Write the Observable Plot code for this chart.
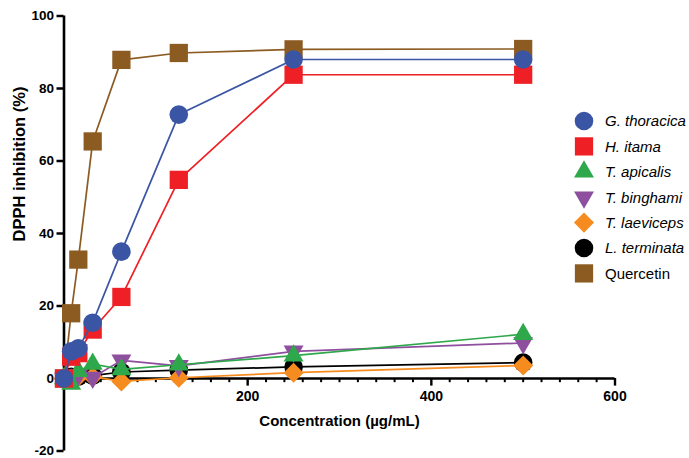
<!DOCTYPE html>
<html>
<head>
<meta charset="utf-8">
<script src="https://cdn.jsdelivr.net/npm/d3@7"></script>
<script src="https://cdn.jsdelivr.net/npm/@observablehq/plot@0.6"></script>
<style>
  body { margin: 0; background: #fff; }
  #wrap { position: relative; width: 689px; height: 458px; overflow: hidden; }
  #legend { position: absolute; left: 560px; top: 100px; pointer-events: none; }
</style>
</head>
<body>
<div id="wrap"><div id="chart"></div><svg id="legend" width="129" height="190"></svg></div>
<script>
// ---- data ----
const conc = [0, 7.8, 15.6, 31.25, 62.5, 125, 250, 500];
const seriesNames = ["G. thoracica", "H. itama", "T. apicalis", "T. binghami", "T. laeviceps", "L. terminata", "Quercetin"];
const gThoracica = [0, 7.5, 8.3, 15.4, 35, 72.8, 88, 88];
const hItama     = [0, 6, 7, 13.5, 22.5, 54.8, 83.8, 83.8];
const tApicalis  = [0, -1.5, 2, 4, 2.5, 3.8, 6.3, 12.2];
const tBinghami  = [0, 0.5, 1, 0.3, 5, 3.5, 7.5, 9.8];
const tLaeviceps = [0, 0, 0.5, 0.5, -0.8, 0.2, 1.6, 3.6];
const lTerminata = [0, 0.5, 0.5, 0.8, 1.8, 2.3, 3.2, 4.4];
const quercetin  = [0, 18, 32.8, 65.4, 87.9, 89.8, 90.8, 90.9];
const seriesValues = [gThoracica, hItama, tApicalis, tBinghami, tLaeviceps, lTerminata, quercetin];
const yTicks = [-20, 0, 20, 40, 60, 80, 100];
const xMajor = [200, 400, 600];
const xMinor = d3.range(20, 600, 20).filter(v => v % 200 !== 0);

// ---- styles ----
const colors  = ["#3b55a5", "#ee1f25", "#2ea84a", "#8e4f9f", "#f68b1f", "#000000", "#8c5b22"];
const symbols = ["circle", "square", "triangle", "triangle", "square", "circle", "square"];
const radii   = [9.3, 10.3, 7.4, 7.4, 8, 9.3, 10.3];
const rotates = [0, 0, 0, 180, 45, 0, 0];
const italic  = [true, true, true, true, true, true, false];

const series = seriesNames.map((name, i) => ({
  name, color: colors[i], symbol: symbols[i], r: radii[i], rotate: rotates[i],
  rows: conc.map((c, j) => ({x: c, y: seriesValues[i][j], name}))
}));

const marks = [];
// axis lines
marks.push(Plot.ruleX([0], {y1: -20, y2: 100, strokeWidth: 2.6, stroke: "#000"}));
marks.push(Plot.ruleY([0], {x1: 0, x2: 600, strokeWidth: 2.6, stroke: "#000"}));
marks.push(Plot.ruleX(xMajor, {x: d => d, y1: 0, y2: -2.1, strokeWidth: 2.4, stroke: "#000"}));
marks.push(Plot.ruleX(xMinor, {x: d => d, y1: 0, y2: -1.15, strokeWidth: 2, stroke: "#000"}));
marks.push(Plot.text(xMajor, {x: d => d, y: 0, text: d => String(d), dy: 18.5, lineAnchor: "middle",
  fontWeight: "bold", fontSize: 14}));
marks.push(Plot.axisY({ticks: yTicks, tickFormat: d => String(d), tickSize: 7, tickPadding: 3, strokeWidth: 2.5,
  label: null, fontWeight: "bold", fontSize: 13.5}));
marks.push(Plot.text(["DPPH inhibition (%)"], {frameAnchor: "left", rotate: -90, dx: -44, dy: 8,
  fontWeight: "bold", fontSize: 16.5}));
marks.push(Plot.text(["Concentration (µg/mL)"], {frameAnchor: "bottom", dy: -30, lineAnchor: "middle",
  fontWeight: "bold", fontSize: 15}));

// series: earlier data sets on top -> draw in reverse
for (const s of series.slice().reverse()) {
  marks.push(Plot.line(s.rows, {x: "x", y: "y", stroke: s.color, strokeWidth: 1.7}));
  marks.push(Plot.dot(s.rows, {x: "x", y: "y", fill: s.color, stroke: "none", symbol: s.symbol, r: s.r, rotate: s.rotate}));
}

const chart = Plot.plot({
  width: 689, height: 458,
  marginLeft: 63.5, marginRight: 74.5, marginTop: 15.5, marginBottom: 7.5,
  x: {domain: [0, 600], axis: null},
  y: {domain: [-20, 100], axis: null},
  style: {fontFamily: "'Liberation Sans', Arial, sans-serif", color: "#000", background: "#fff", overflow: "visible"},
  marks
});
document.getElementById("chart").appendChild(chart);

// ---- legend ----
const leg = d3.select("#legend");
const symMap = {circle: d3.symbolCircle, square: d3.symbolSquare, triangle: d3.symbolTriangle};
series.forEach((s, i) => {
  const cy = 21 + i * 25.4;
  leg.append("path")
    .attr("d", d3.symbol(symMap[s.symbol], Math.PI * s.r * s.r)())
    .attr("transform", `translate(24,${cy}) rotate(${s.rotate})`)
    .attr("fill", s.color);
  leg.append("text")
    .attr("x", 45).attr("y", cy).attr("dy", "0.36em")
    .attr("font-family", "'Liberation Sans', Arial, sans-serif")
    .attr("font-size", 15)
    .attr("font-style", italic[i] ? "italic" : "normal")
    .text(s.name);
});
</script>
</body>
</html>
